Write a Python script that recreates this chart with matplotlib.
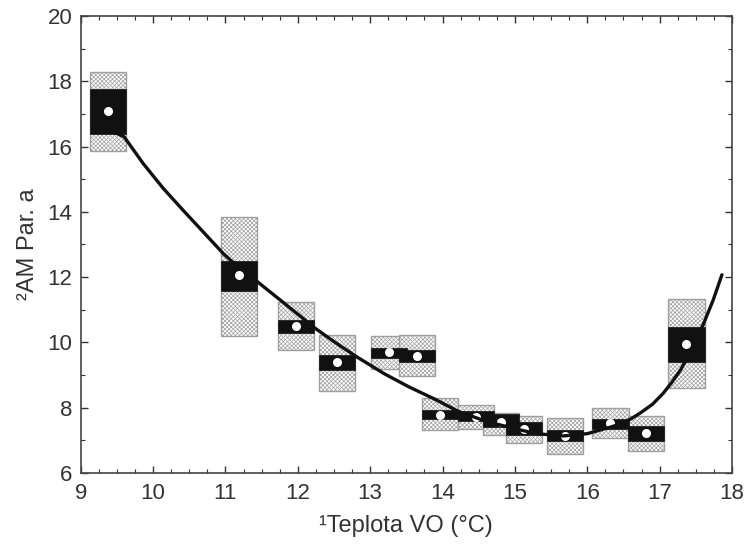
import numpy as np
import matplotlib.pyplot as plt
from matplotlib.patches import Rectangle
from matplotlib.ticker import MultipleLocator

plt.rcParams['font.family'] = ['Liberation Sans', 'DejaVu Sans']
plt.rcParams['hatch.linewidth'] = 0.5

# Данные: положение, среднее, интервалы
temp = [9.38, 11.19, 11.98, 12.54, 13.26, 13.65, 13.96, 14.46, 14.81, 15.12, 15.69, 16.32, 16.81, 17.37]
mean = [17.09, 12.06, 10.50, 9.41, 9.69, 9.58, 7.78, 7.72, 7.55, 7.34, 7.13, 7.52, 7.22, 9.95]
se_lo = [16.38, 11.58, 10.28, 9.16, 9.51, 9.41, 7.64, 7.59, 7.39, 7.16, 6.96, 7.35, 6.99, 9.41]
se_hi = [17.76, 12.50, 10.69, 9.62, 9.84, 9.77, 7.91, 7.90, 7.80, 7.57, 7.32, 7.65, 7.42, 10.48]
sd_lo = [15.87, 10.20, 9.75, 8.52, 9.18, 8.98, 7.30, 7.33, 7.16, 6.91, 6.58, 7.06, 6.68, 8.59]
sd_hi = [18.29, 13.85, 11.23, 10.23, 10.18, 10.23, 8.29, 8.08, 7.83, 7.75, 7.68, 7.98, 7.75, 11.32]

# Кривая (точки)
curve_x = [9.45, 9.6, 9.86, 10.14, 10.41, 10.69, 10.97, 11.08, 11.44, 11.8, 12.24, 12.5, 12.81,
           13.2, 13.53, 13.9, 14.22, 14.6, 15.0, 15.3, 15.67, 16.0, 16.32, 16.46, 16.6, 16.73,
           16.9, 17.05, 17.17, 17.29, 17.45, 17.61, 17.74, 17.86]
curve_y = [16.45, 16.3, 15.49, 14.72, 14.06, 13.39, 12.72, 12.5, 11.86, 11.22, 10.43, 10.02, 9.56,
           9.03, 8.64, 8.25, 7.88, 7.58, 7.35, 7.2, 7.13, 7.2, 7.4, 7.5, 7.65, 7.83,
           8.1, 8.44, 8.78, 9.16, 9.8, 10.59, 11.3, 12.07]

w = 0.5

fig = plt.figure(figsize=(7.47, 5.53), dpi=100)
ax = fig.add_axes([0.108, 0.145, 0.872, 0.826])

for i in range(len(temp)):
    ax.add_patch(Rectangle((temp[i] - w / 2, sd_lo[i]), w, sd_hi[i] - sd_lo[i],
                           facecolor='white', edgecolor='#a0a0a0', hatch='xxxxxxxx', lw=1, zorder=2))
    ax.add_patch(Rectangle((temp[i] - w / 2, se_lo[i]), w, se_hi[i] - se_lo[i],
                           facecolor='#111111', edgecolor='#111111', lw=0.5, zorder=3))

ax.plot(temp, mean, 'o', color='white', markersize=6.5, markeredgewidth=0, zorder=4)
ax.plot(curve_x, curve_y, color='#111111', lw=2.4, zorder=5, solid_capstyle='round',
        solid_joinstyle='round')

ax.set_xlim(9, 18)
ax.set_ylim(6, 20)
ax.xaxis.set_major_locator(MultipleLocator(1))
ax.xaxis.set_minor_locator(MultipleLocator(0.25))
ax.yaxis.set_major_locator(MultipleLocator(2))
ax.yaxis.set_minor_locator(MultipleLocator(1))
ax.tick_params(which='both', direction='in', top=True, right=True, color='#333333',
               labelsize=16, labelcolor='#333333')
ax.tick_params(which='major', length=5, width=1)
ax.tick_params(which='minor', length=3, width=0.8)
ax.tick_params(axis='x', pad=7)
ax.tick_params(axis='y', pad=6)
for s in ax.spines.values():
    s.set_color('#444444')
    s.set_linewidth(1.2)

ax.set_xlabel('¹Teplota VO (°C)', fontsize=17, color='#333333', labelpad=8)
ax.set_ylabel('²AM Par. a', fontsize=17, color='#333333', labelpad=6)

plt.savefig('out.png', dpi=100)
